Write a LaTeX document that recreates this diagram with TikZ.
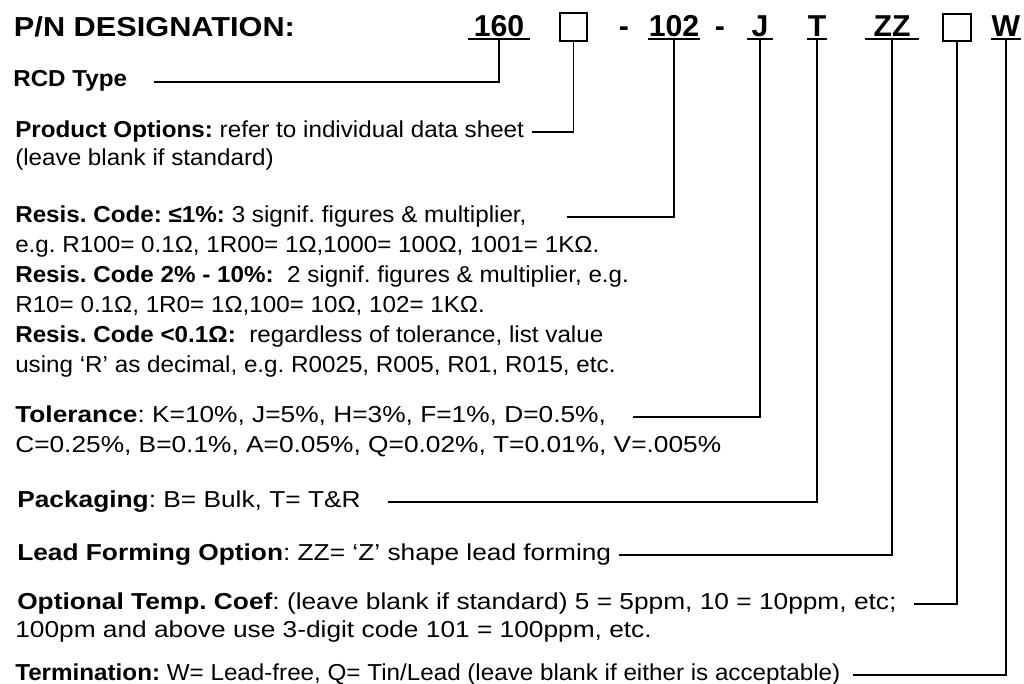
\documentclass[tikz,border=0pt]{standalone}
\usepackage{fontspec}
\setmainfont{Liberation Sans}
\newfontfamily\hdfont[FakeStretch=1.12]{Liberation Sans}
\newfontfamily\regfont[FakeStretch=1.14]{Liberation Sans}
\newfontfamily\nrwfont[FakeStretch=1.05]{Liberation Sans}
\usetikzlibrary{positioning,calc}
\frenchspacing

\tikzset{
  pncode/.style={font=\bfseries\fontsize{21.5}{24}\selectfont,
                 anchor=base,inner xsep=0.5pt,inner ysep=1.4pt,
                 text height=0.72em,text depth=0pt},
  pnhead/.style={pncode,anchor=base west,font=\hdfont\bfseries\fontsize{19.5}{23}\selectfont},
  optbox/.style={draw,line width=1.4pt,minimum size=0.68cm,inner sep=0pt},
  rlbl/.style={anchor=base west,inner sep=0pt,text height=0.75em,text depth=0pt,
               font=\regfont\fontsize{16.4}{19}\selectfont},
  nlbl/.style={rlbl,font=\nrwfont\fontsize{16.4}{19}\selectfont},
  conn/.style={line width=1.4pt},
  uline/.style={line width=1.4pt},
}

\begin{document}
\begin{tikzpicture}[x=0.025cm,y=-0.025cm]
  \useasboundingbox (0,0) rectangle (1024,683);

  \node[pnhead] (pn) at (13,37) {P/N DESIGNATION:};
  \node[pncode,inner xsep=4pt] (c160) at (499,37) {160};
  \node[optbox] (box1) at (573.5,27) {};
  \node[pncode] (dash1) at (624,37) {-};
  \node[pncode] (c102) at (674,37) {102};
  \node[pncode] (dash2) at (720,37) {-};
  \node[pncode,inner xsep=2.8pt] (cJ) at (760,37) {J};
  \node[pncode] (cT) at (817,37) {T};
  \node[pncode,inner xsep=6pt] (cZZ) at (892,37) {ZZ};
  \node[optbox] (box2) at (957,27.5) {};
  \node[pncode,inner xsep=0pt] (cW) at (1006,37) {W};
  \foreach \c in {c160,c102,cJ,cT,cZZ,cW}
    \draw[uline] (\c.south west) -- (\c.south east);

  \node[nlbl] (rcd) at (13,87) {\bfseries RCD Type};
  \node[nlbl] (prod) at (15,137) {\textbf{Product Options:} refer to individual data sheet};
  \node[nlbl] (prod2) at (15,165) {(leave blank if standard)};
  \node[nlbl] (res1) at (15,222) {\textbf{Resis. Code: ≤1\%:} 3 signif. figures \& multiplier,};
  \node[nlbl] (res2) at (15,252) {e.g. R100= 0.1Ω, 1R00= 1Ω,1000= 100Ω, 1001= 1KΩ.};
  \node[nlbl] (res3) at (15,282) {\textbf{Resis. Code 2\% - 10\%:}\ \ 2 signif. figures \& multiplier, e.g.};
  \node[nlbl] (res4) at (15,312) {R10= 0.1Ω, 1R0= 1Ω,100= 10Ω, 102= 1KΩ.};
  \node[nlbl] (res5) at (15,342) {\textbf{Resis. Code <0.1Ω:}\ \ regardless of tolerance, list value};
  \node[nlbl] (res6) at (15,372) {using ‘R’ as decimal, e.g. R0025, R005, R01, R015, etc.};
  \node[rlbl] (tol1) at (15,422) {\textbf{Tolerance}: K=10\%, J=5\%, H=3\%, F=1\%, D=0.5\%,};
  \node[rlbl] (tol2) at (15,452) {C=0.25\%, B=0.1\%, A=0.05\%, Q=0.02\%, T=0.01\%, V=.005\%};
  \node[rlbl] (pack) at (17,507) {\textbf{Packaging}: B= Bulk, T= T\&R};
  \node[rlbl] (leadf) at (17,560) {\textbf{Lead Forming Option}: ZZ= ‘Z’ shape lead forming};
  \node[rlbl] (opt1) at (17,609) {\textbf{Optional Temp. Coef}: (leave blank if standard) 5 = 5ppm, 10 = 10ppm, etc;};
  \node[rlbl] (opt2) at (15,637) {100pm and above use 3-digit code 101 = 100ppm, etc.};
  \node[nlbl] (term) at (15,680) {\textbf{Termination:} W= Lead-free, Q= Tin/Lead (leave blank if either is acceptable)};

  \draw[conn,shorten >=0.675cm] (c160.south) |- (rcd.east);
  \draw[conn,shorten >=0.2cm] (box1.south) |- (prod.east);
  \draw[conn,shorten >=1.0cm] (c102.south) |- (res1.east);
  \draw[conn,shorten >=0.675cm] (cJ.south) |- (tol1.east);
  \draw[conn,shorten >=0.675cm] (cT.south) |- (pack.east);
  \draw[conn,shorten >=0.2cm] (cZZ.south) |- (leadf.east);
  \draw[conn,shorten >=0.425cm] (box2.south) |- (opt1.east);
  \draw[conn,shorten >=0.3cm] (cW.south) |- (term.east);
\end{tikzpicture}
\end{document}
